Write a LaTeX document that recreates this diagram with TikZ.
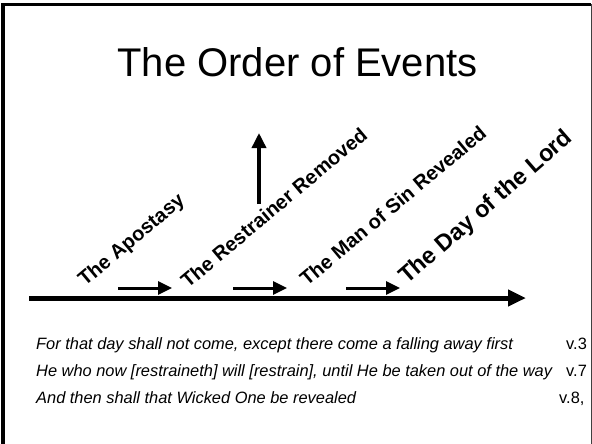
\documentclass[tikz,border=0pt]{standalone}
\usepackage{fontspec}
\setmainfont{Liberation Sans}
\usetikzlibrary{arrows.meta}
\begin{document}
\begin{tikzpicture}[x=1pt,y=-1pt,
  evlabel/.style={font=\fontsize{20}{23}\selectfont\bfseries, rotate=40, anchor=base west, inner sep=0pt},
  biglabel/.style={font=\fontsize{23.5}{27}\selectfont\bfseries, rotate=41, anchor=base west, inner sep=0pt},
  verse/.style={font=\fontsize{16.4}{18}\selectfont\itshape, anchor=base west, inner sep=0pt},
  ref/.style={font=\fontsize{16.4}{18}\selectfont, anchor=base west, inner sep=0pt},
  mainarrow/.style={line width=5pt, -{Triangle[length=18pt,width=16pt]}},
  smallarrow/.style={line width=3pt, -{Triangle[length=14pt,width=13pt]}},
  uparrow/.style={line width=3.5pt, -{Triangle[length=15pt,width=14pt]}}]
\useasboundingbox (0,0) rectangle (592,444);
% frame
\draw[line width=3.5pt] (3,3.5) -- (3,444);
\draw[line width=2.5pt] (1.5,4.5) -- (591,4.5);
\draw[line width=1pt, black!75] (591,4) -- (591,444);
% title
\node[font=\fontsize{40}{46}\selectfont, anchor=base, inner sep=0pt] (title) at (297.5,77) {The Order of Events};
% main timeline
\coordinate (ms) at (29,298);
\coordinate (me) at (526,298);
\draw[mainarrow] (ms) -- (me);
% small arrows
\coordinate (a1s) at (118,288); \coordinate (a1e) at (172,288);
\coordinate (a2s) at (233,288); \coordinate (a2e) at (287,288);
\coordinate (a3s) at (346,288); \coordinate (a3e) at (400,288);
\draw[smallarrow] (a1s) -- (a1e);
\draw[smallarrow] (a2s) -- (a2e);
\draw[smallarrow] (a3s) -- (a3e);
% up arrow
\coordinate (us) at (259,204); \coordinate (ue) at (259,133);
\draw[uparrow] (us) -- (ue);
% event labels
\node[evlabel] (apo) at (85,287) {The Apostasy};
\node[evlabel] (res) at (188,289) {The Restrainer Removed};
\node[evlabel] (man) at (307,287) {The Man of Sin Revealed};
\node[biglabel] (day) at (407,285) {The Day of the Lord};
% verses
\node[verse] (v1) at (36,349) {For that day shall not come, except there come a falling away first};
\node[verse] (v2) at (36,376) {He who now [restraineth] will [restrain], until He be taken out of the way};
\node[verse] (v3) at (36,403) {And then shall that Wicked One be revealed};
\node[ref] (r1) at (566,349) {v.3};
\node[ref] (r2) at (566,376) {v.7};
\node[ref] (r3) at (559,403) {v.8,};
\end{tikzpicture}
\end{document}
